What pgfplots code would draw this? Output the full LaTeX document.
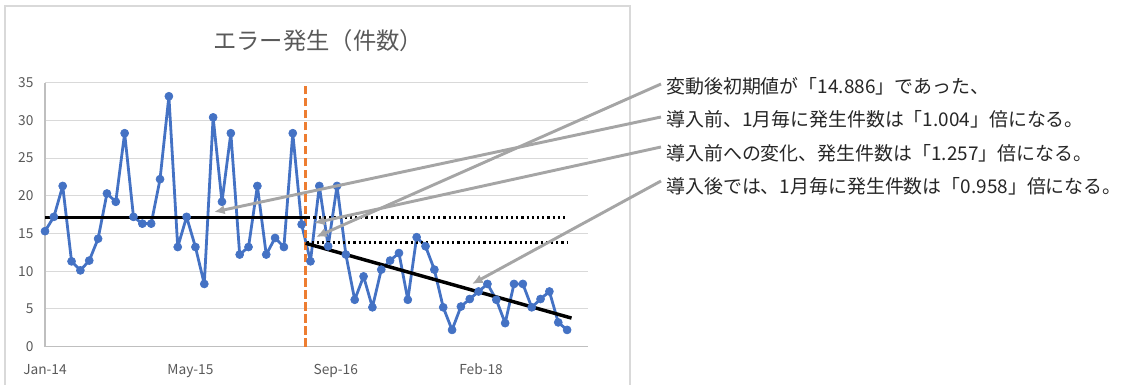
\documentclass[border=0pt]{standalone}
\usepackage{fontspec}
\setmainfont{Noto Sans CJK JP}
\usepackage{pgfplots}
\pgfplotsset{compat=1.18}
\usetikzlibrary{arrows.meta}
\definecolor{xblue}{HTML}{4472C4}
\definecolor{xorange}{HTML}{ED7D31}
\definecolor{xgrid}{HTML}{D9D9D9}
\definecolor{xaxis}{HTML}{BFBFBF}
\definecolor{xtext}{HTML}{595959}
\definecolor{xarrow}{HTML}{A5A5A5}
\pgfplotstableread{
x y
0 15.3
1 17.2
2 21.3
3 11.3
4 10.1
5 11.4
6 14.3
7 20.3
8 19.2
9 28.3
10 17.2
11 16.3
12 16.3
13 22.2
14 33.2
15 13.2
16 17.2
17 13.2
18 8.3
19 30.4
20 19.2
21 28.3
22 12.2
23 13.2
24 21.3
25 12.2
26 14.4
27 13.2
28 28.3
29 16.2
30 11.3
31 21.3
32 13.3
33 21.3
34 12.2
35 6.2
36 9.3
37 5.2
38 10.2
39 11.4
40 12.4
41 6.2
42 14.5
43 13.3
44 10.2
45 5.2
46 2.2
47 5.3
48 6.3
49 7.3
50 8.3
51 6.2
52 3.1
53 8.3
54 8.3
55 5.2
56 6.3
57 7.3
58 3.2
59 2.2
}\errdata
\begin{document}
\begin{tikzpicture}
\useasboundingbox (0,0) rectangle (842.25pt,288.75pt);
\begin{scope}[x=0.75pt,y=-0.75pt,yshift=288.75pt]
\draw[xgrid, line width=0.8pt] (5,400) -- (5,6) -- (630,6) -- (630,400);
\node[font=\fontsize{17.5}{19}\selectfont, text=xtext] at (318,41) {エラー発生（件数）};
\end{scope}
\begin{axis}[
  at={(33.75pt,28.875pt)}, anchor=south west,
  scale only axis, width=407.5pt, height=197.85pt,
  xmin=0, xmax=61.4, ymin=0, ymax=35,
  axis x line*=bottom, axis y line*=left,
  axis line style={xaxis, line width=0.8pt, -},
  ytick={0,5,...,35},
  xtick={0,16.43,32.86,49.28},
  xticklabels={Jan-14,May-15,Sep-16,Feb-18},
  ymajorgrids, grid style={xgrid, line width=0.8pt},
  major tick length=0pt,
  tick label style={font=\fontsize{10.3}{12}\selectfont, text=xtext},
  /pgf/number format/assume math mode=true,
  yticklabel style={anchor=east, inner sep=0pt, xshift=-8.5pt},
  xticklabel style={anchor=base, inner sep=0pt, yshift=-21pt},
  clip=false,
]
\addplot[xblue, line width=2.1pt, line join=round, mark=*, mark size=3pt, mark options={solid, fill=xblue, draw=xblue, line width=0.5pt}] table[x=x,y=y] {\errdata};
\addplot[xorange, line width=1.8pt, dash pattern=on 6.5pt off 2.5pt] coordinates {(29.45,0) (29.45,35)};
\addplot[black, line width=2.6pt] coordinates {(0,17.1) (29.75,17.1)};
\addplot[black, line width=1.8pt, dash pattern=on 1.6pt off 2.3pt] coordinates {(29.75,17.1) (58.95,17.1)};
\addplot[black, line width=1.8pt, dash pattern=on 1.6pt off 2.3pt] coordinates {(29.57,13.8) (59.1,13.8)};
\addplot[black, line width=2.6pt] coordinates {(29.45,13.7) (59.5,3.77)};
\end{axis}
\begin{scope}[x=0.75pt,y=-0.75pt,yshift=288.75pt]
\begin{scope}[xarrow, line width=2.2pt, -{Latex[length=8pt,width=7pt]}]
\draw (661,84) -- (316,237);
\draw (661,117) -- (214,212);
\draw (661,147) -- (314,223);
\draw (661,181) -- (472,284);
\end{scope}
\begin{scope}[every node/.style={anchor=west, inner sep=0pt, font=\fontsize{14.2}{16}\selectfont, text=black!85}]
\node at (666,86) {変動後初期値が「14.886」であった、};
\node at (666,119) {導入前、1月毎に発生件数は「1.004」倍になる。};
\node at (666,153) {導入前への変化、発生件数は「1.257」倍になる。};
\node at (666,186) {導入後では、1月毎に発生件数は「0.958」倍になる。};
\end{scope}
\end{scope}
\end{tikzpicture}
\end{document}
